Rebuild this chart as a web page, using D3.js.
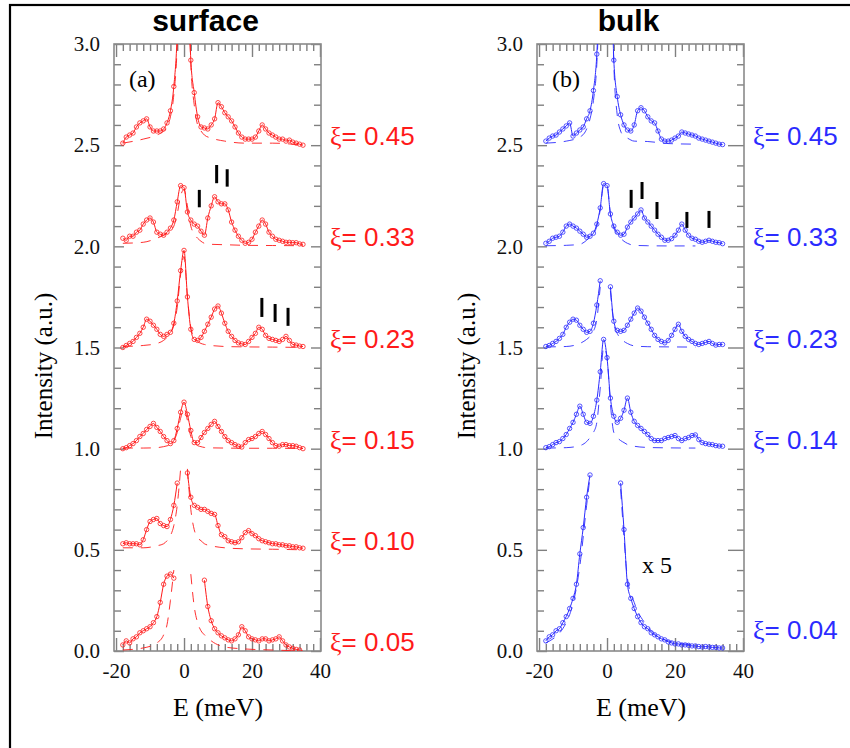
<!DOCTYPE html>
<html>
<head>
<meta charset="utf-8">
<script src="https://cdn.jsdelivr.net/npm/d3@7"></script>
<style>
  body { margin: 0; background: #fff; }
  svg { display: block; }
  .tick text { font-family: "Liberation Serif", "Times New Roman", serif; font-size: 21px; fill: #111; }
  .tick line { stroke: #808080; stroke-width: 1.4; }
</style>
</head>
<body>
<svg id="chart" width="850" height="748"></svg>
<script>
// ----- data ---------------------------------------------------------------
// energy grid of the measured points (meV)
const energy = [-18,-17,-16,-15,-14,-13,-12,-11,-10,-9,-8,-7,-6,-5,-4,-3,-2,-1,0,1,2,3,4,5,6,7,8,9,
  10,11,12,13,14,15,16,17,18,19,20,21,22,23,24,25,26,27,28,29,30,31,32,33,34,35];
// energy grid of the dashed (central peak + background) curves
const dashEnergy = [-18,-12,-8,-6,-5,-4,-3,-2,-1,0,1,2,3,4,5,6,8,12,18,26,35];

// surface (a): intensities above each offset
const surfaceXi = ["0.45", "0.33", "0.23", "0.15", "0.10", "0.05"];
const surfaceOffset = [2.5, 2.0, 1.5, 1.0, 0.5, 0.0];
const surf045 = [.01,.04,.05,.06,.09,.11,.12,.13,.09,.07,.07,.07,.08,.11,.17,.29,.55,1.2,1.6,1.0,.42,.26,.14,.09,.085,.08,
  .10,.13,.21,.19,.16,.14,.12,.09,.06,.04,.03,.03,.03,.04,.07,.10,.08,.06,.05,.04,.03,.03,.02,.025,.015,.01,.005,0];
const surf033 = [.04,.03,.05,.05,.07,.08,.11,.13,.14,.12,.07,.06,.055,.07,.09,.13,.22,.30,.29,.17,.13,.11,.10,.075,.055,.14,
  .20,.245,.22,.21,.21,.18,.12,.08,.05,.03,.015,.02,.035,.07,.10,.13,.11,.07,.05,.035,.03,.025,.02,.02,.018,.018,.012,.01];
const surf023 = [0,.01,.02,.03,.05,.07,.10,.14,.13,.11,.09,.065,.055,.065,.075,.12,.23,.38,.48,.25,.09,.04,.035,.05,.08,.115,
  .15,.19,.205,.17,.12,.08,.055,.035,.023,.018,.015,.03,.05,.07,.10,.09,.06,.045,.04,.035,.03,.04,.055,.035,.015,.012,.007,.005];
const surf015 = [0,.005,.015,.025,.04,.06,.075,.095,.11,.125,.105,.085,.06,.04,.025,.04,.10,.18,.23,.17,.09,.03,.03,.055,.08,.10,
  .12,.135,.11,.085,.06,.04,.03,.02,.012,.008,.03,.045,.05,.06,.075,.085,.07,.05,.03,.015,.012,.02,.02,.015,.015,.012,.005,0];
const surf010 = [.03,.035,.03,.03,.03,.025,.05,.10,.14,.15,.155,.13,.12,.115,.15,.22,.33,null,null,.38,.26,.22,.21,.20,.20,.19,
  .18,.175,.12,.075,.065,.045,.04,.035,.04,.06,.085,.095,.08,.07,.055,.045,.04,.035,.03,.03,.025,.025,.02,.02,.015,.015,.01,.008];
const surf005 = [.03,.05,.04,.06,.07,.09,.10,.11,.12,.14,.17,.24,.33,.37,.38,.36,null,null,null,null,null,null,null,null,.35,.22,
  .15,.11,.09,.075,.065,.055,.05,.06,.08,.12,.10,.07,.06,.055,.05,.06,.06,.05,.055,.06,.07,.05,.03,.02,.013,.008,.005,null];
const surfDash045 = [.01,.03,.05,.07,.09,.14,.25,.5,1.2,1.6,1.0,.4,.2,.1,.07,.05,.035,.02,.01,.01,0];
const surfDash033 = [.015,.02,.04,.055,.065,.075,.1,.16,.25,.28,.2,.1,.06,.04,.025,.015,.01,.008,.005,.004,.003];
const surfDash023 = [.005,.01,.02,.035,.05,.07,.11,.2,.36,.45,.25,.1,.05,.03,.02,.015,.01,.005,.003,.002,0];
const surfDash015 = [.003,.003,.005,.01,.014,.02,.04,.08,.15,.2,.14,.06,.03,.015,.01,.006,.004,.003,.002,.002,0];
const surfDash010 = [.01,.01,.02,.03,.045,.07,.12,.22,.40,null,.40,.2,.1,.06,.045,.03,.02,.01,.005,.003,0];
const surfDash005 = [.005,.015,.04,.08,.13,.25,.4,null,null,null,null,.38,.22,.14,.1,.08,.05,.02,.01,.005,0];

// bulk (b)
const bulkXi = ["0.45", "0.33", "0.23", "0.14", "0.04"];
const bulkOffset = [2.5, 2.0, 1.5, 1.0, 0.0];
const bulk045 = [.02,.035,.045,.05,.065,.08,.095,.11,.045,.06,.075,.09,.13,.17,.27,.45,.9,1.5,1.8,1.2,.42,.24,.15,.10,.075,.07,
  .10,.17,.185,.17,.14,.12,.11,.07,.03,.02,.02,.025,.035,.045,.065,.06,.055,.05,.045,.035,.03,.025,.02,.015,.01,.005,.003,null];
const bulk033 = [.015,.025,.04,.045,.05,.07,.10,.11,.10,.09,.075,.06,.045,.05,.065,.11,.19,.31,.30,.16,.10,.07,.055,.06,.095,.12,
  .14,.16,.18,.14,.12,.10,.08,.06,.045,.03,.03,.038,.055,.08,.11,.08,.055,.04,.035,.025,.02,.025,.03,.025,.02,.018,.013,null];
const bulk023 = [.005,.01,.02,.03,.045,.065,.10,.125,.14,.135,.11,.09,.075,.08,.12,.21,.33,null,null,.30,.13,.085,.08,.085,.11,.14,
  .17,.195,.18,.15,.12,.09,.06,.04,.03,.023,.035,.06,.09,.115,.08,.055,.04,.03,.02,.015,.02,.025,.03,.02,.012,.015,.015,null];
const bulk014 = [.005,.01,.02,.03,.035,.05,.07,.10,.13,.17,.21,.17,.13,.125,.16,.24,.38,.54,.45,.25,.16,.13,.15,.19,.25,.18,
  .135,.115,.10,.085,.07,.05,.04,.04,.04,.05,.055,.06,.065,.05,.04,.05,.055,.065,.068,.045,.03,.025,.022,.02,.015,.013,.012,null];
const bulk004 = [.05,.07,.08,.10,.11,.14,.17,.21,.26,.33,.48,.61,.76,.87,null,null,null,null,null,null,null,null,.83,.60,.33,.26,
  .21,.17,.14,.12,.11,.09,.08,.07,.06,.055,.045,.04,.035,.035,.03,.03,.028,.025,.025,.022,.02,.022,.02,.018,.018,.015,.015,null];
const bulkDash045 = [.01,.02,.04,.08,.13,.22,.4,.85,1.5,1.8,1.2,.4,.15,.07,.045,.035,.02,.018,.008,.005,null];
const bulkDash033 = [.003,.005,.01,.03,.045,.06,.1,.18,.3,.3,.16,.09,.06,.04,.025,.015,.005,.003,.002,.002,null];
const bulkDash023 = [.003,.005,.02,.04,.055,.08,.14,.3,null,null,.28,.12,.07,.045,.03,.02,.008,.004,.003,.002,null];
const bulkDash014 = [.003,.005,.015,.035,.055,.08,.13,.3,.5,.45,.22,.08,.055,.04,.03,.02,.012,.006,.004,.003,null];
const bulkDash004 = [.04,.14,.42,.72,.86,null,null,null,null,null,null,null,null,.8,.56,.36,.24,.12,.05,.03,null];

// black phonon markers: energy, bottom, top (absolute intensity)
const surfaceMarkE = [4.5, 9.6, 12.7, 22.9, 26.8, 30.6];
const surfaceMarkLo = [2.193, 2.312, 2.295, 1.651, 1.626, 1.607];
const surfaceMarkHi = [2.279, 2.402, 2.381, 1.745, 1.715, 1.696];
const bulkMarkE = [7.1, 10.3, 14.7, 23.5, 30.0];
const bulkMarkLo = [2.190, 2.234, 2.135, 2.091, 2.091];
const bulkMarkHi = [2.279, 2.318, 2.219, 2.170, 2.175];

const xTickLabels = [-20, 0, 20, 40];
const yTickLabels = [0, 0.5, 1.0, 1.5, 2.0, 2.5, 3.0];

// ----- layout ---------------------------------------------------------------
const svg = d3.select("#chart");
const plotTop = 44, plotBottom = 651, plotW = 207;
const serif = '"Liberation Serif", "Times New Roman", serif';
const sans = '"Liberation Sans", Arial, Helvetica, sans-serif';

svg.append("rect").attr("x", 10).attr("y", 5).attr("width", 860).attr("height", 770)
  .attr("fill", "#fff").attr("stroke", "#000").attr("stroke-width", 2.2);

const panels = [
  { key: "s", title: "surface", tag: "(a)", left: 114, color: "#ff1a1a",
    xi: surfaceXi, offset: surfaceOffset,
    counts: [surf045, surf033, surf023, surf015, surf010, surf005],
    dashes: [surfDash045, surfDash033, surfDash023, surfDash015, surfDash010, surfDash005],
    markE: surfaceMarkE, markLo: surfaceMarkLo, markHi: surfaceMarkHi, rightTick: 10 },
  { key: "b", title: "bulk", tag: "(b)", left: 537, color: "#2b2bff",
    xi: bulkXi, offset: bulkOffset,
    counts: [bulk045, bulk033, bulk023, bulk014, bulk004],
    dashes: [bulkDash045, bulkDash033, bulkDash023, bulkDash014, bulkDash004],
    markE: bulkMarkE, markLo: bulkMarkLo, markHi: bulkMarkHi, rightTick: 16 }
];

panels.forEach((p) => {
  const x = d3.scaleLinear().domain([-20.6, 40.3]).range([p.left, p.left + plotW]);
  const y = d3.scaleLinear().domain([0, 3]).range([plotBottom, plotTop]);
  const g = svg.append("g");

  // title
  g.append("text").attr("x", p.left + plotW / 2 - 12).attr("y", 31)
    .attr("text-anchor", "middle").attr("font-family", sans).attr("font-weight", "bold")
    .attr("font-size", 30).text(p.title);

  // clip
  const clipId = "clip-" + p.key;
  svg.append("clipPath").attr("id", clipId).append("rect")
    .attr("x", p.left).attr("y", plotTop).attr("width", plotW).attr("height", plotBottom - plotTop);

  // axes (ticks inward)
  const minorY = d3.range(0, 3.001, 0.1).filter((v) => Math.abs(v * 2 - Math.round(v * 2)) > 1e-6);
  g.append("g").attr("transform", `translate(${p.left},0)`)
    .call(d3.axisLeft(y).tickValues(minorY).tickSize(-7).tickFormat(""));
  g.append("g").attr("transform", `translate(${p.left},0)`)
    .call(d3.axisLeft(y).tickValues(yTickLabels).tickSize(-10).tickPadding(14).tickFormat(d3.format(".1f")));
  g.append("g").attr("transform", `translate(${p.left + plotW},0)`)
    .call(d3.axisRight(y).tickValues(minorY).tickSize(-7).tickFormat(""));
  g.append("g").attr("transform", `translate(${p.left + plotW},0)`)
    .call(d3.axisRight(y).tickValues(yTickLabels).tickSize(-p.rightTick).tickFormat(""));

  const minorX = d3.range(-20, 41, 2).filter((v) => v % 20 !== 0);
  g.append("g").attr("transform", `translate(0,${plotBottom})`)
    .call(d3.axisBottom(x).tickValues(minorX).tickSize(-7).tickFormat(""));
  g.append("g").attr("transform", `translate(0,${plotBottom})`)
    .call(d3.axisBottom(x).tickValues(xTickLabels).tickSize(-13).tickPadding(12).tickFormat((d) => String(d)));
  g.append("g").attr("transform", `translate(0,${plotTop})`)
    .call(d3.axisTop(x).tickValues(minorX).tickSize(-7).tickFormat(""));
  g.append("g").attr("transform", `translate(0,${plotTop})`)
    .call(d3.axisTop(x).tickValues(xTickLabels).tickSize(-13).tickFormat(""));
  g.selectAll(".domain").remove();
  g.selectAll(".tick text").attr("font-size", 21);

  g.append("rect").attr("x", p.left).attr("y", plotTop).attr("width", plotW)
    .attr("height", plotBottom - plotTop).attr("fill", "none")
    .attr("stroke", "#8a8a8a").attr("stroke-width", 1.6);

  // axis titles
  g.append("text").attr("transform", `translate(${p.left - 62},${366}) rotate(-90)`)
    .attr("text-anchor", "middle").attr("font-family", serif).attr("font-size", 25)
    .text("Intensity (a.u.)");
  g.append("text").attr("x", x(10)).attr("y", 716).attr("text-anchor", "middle")
    .attr("font-family", serif).attr("font-size", 26).text("E (meV)");

  g.append("text").attr("x", x(-16.2)).attr("y", 87).attr("font-family", serif)
    .attr("font-size", 24).text(p.tag);

  // spectra
  const plot = g.append("g").attr("clip-path", `url(#${clipId})`);
  p.counts.forEach((vals, i) => {
    const base = p.offset[i];
    const pts = energy.map((e, k) => [e, vals[k]]).filter((d) => d[1] !== undefined);
    const dash = dashEnergy.map((e, k) => [e, p.dashes[i][k]]);

    const line = d3.line().defined((d) => d[1] !== null)
      .x((d) => x(d[0])).y((d) => y(base + d[1])).curve(d3.curveMonotoneX);

    plot.append("path").datum(dash).attr("d", line).attr("fill", "none")
      .attr("stroke", p.color).attr("stroke-width", 0.9).attr("stroke-dasharray", "10,8");
    plot.append("path").datum(pts).attr("d", line).attr("fill", "none")
      .attr("stroke", p.color).attr("stroke-width", 1);
    plot.append("g").selectAll("circle").data(pts.filter((d) => d[1] !== null)).join("circle")
      .attr("cx", (d) => x(d[0])).attr("cy", (d) => y(base + d[1])).attr("r", 2.2)
      .attr("fill", "none").attr("stroke", p.color).attr("stroke-width", 0.8);

    // xi label
    const lift = p.key === "b" && base === 0 ? -12 : 0;
    const lbl = g.append("text").attr("x", p.left + plotW + 9).attr("y", y(base) + lift)
      .attr("fill", p.color).attr("font-size", 26);
    lbl.append("tspan").attr("font-family", serif).text("ξ");
    lbl.append("tspan").attr("font-family", sans).text("= " + p.xi[i]);
  });

  // markers
  g.append("g").selectAll("line").data(p.markE).join("line")
    .attr("x1", (d) => x(d)).attr("x2", (d) => x(d))
    .attr("y1", (d, i) => y(p.markLo[i])).attr("y2", (d, i) => y(p.markHi[i]))
    .attr("stroke", "#000").attr("stroke-width", 3);
});

// x5 note for the bulk 0.04 spectrum
svg.append("text").attr("x", 642).attr("y", 573).attr("font-family", serif)
  .attr("font-size", 24).text("x 5");
</script>
</body>
</html>
